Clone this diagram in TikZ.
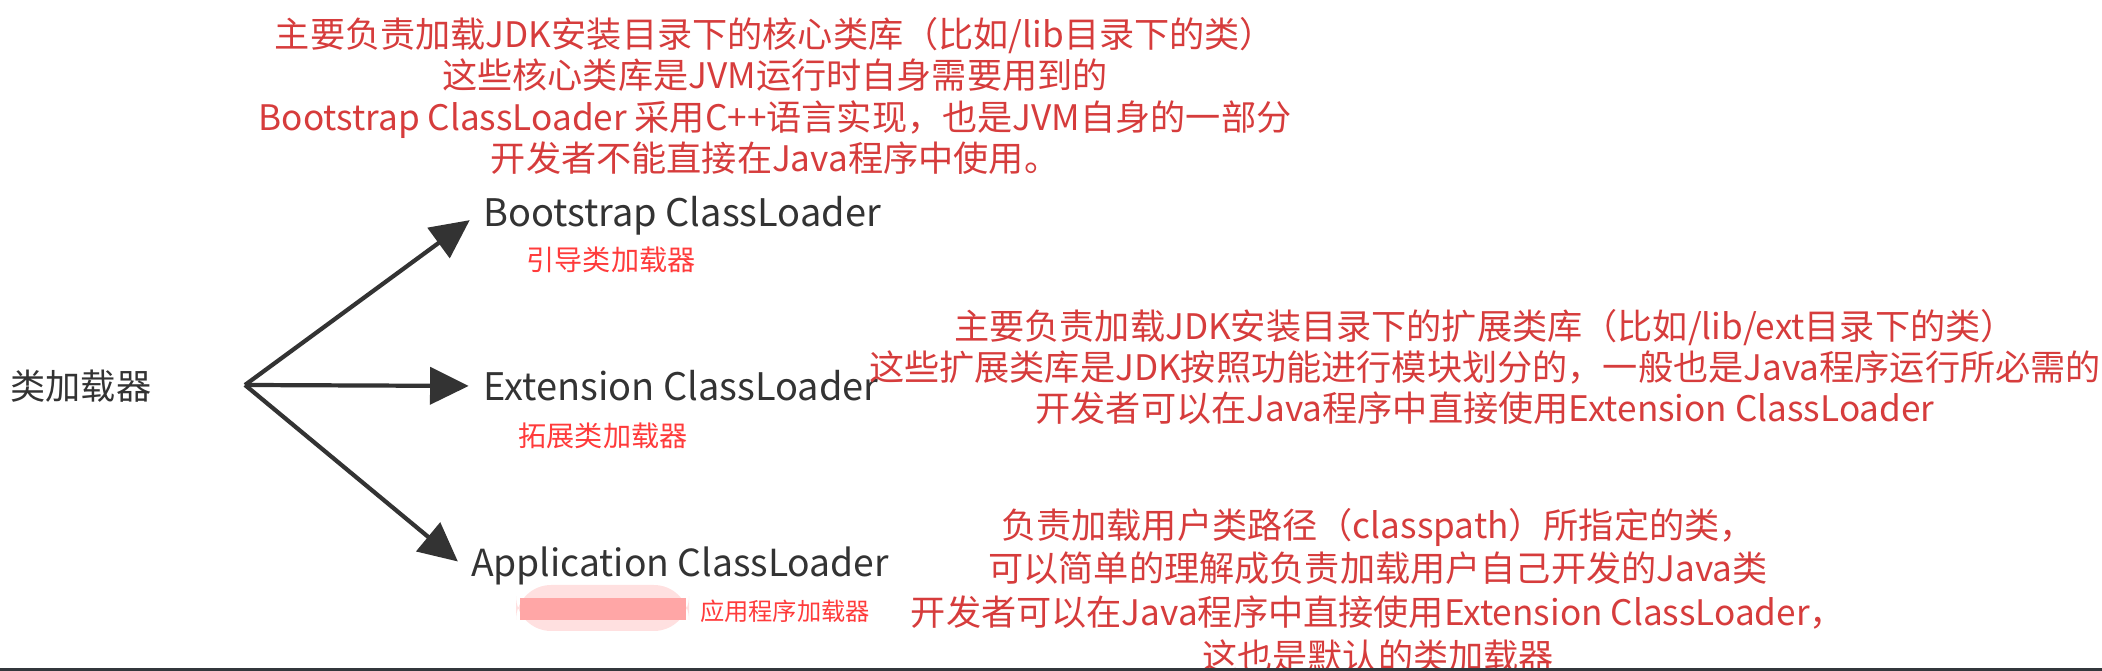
\documentclass[tikz,border=0pt]{standalone}
\usepackage{fontspec}
\setmainfont{Noto Sans CJK SC}
\usepackage{xcolor}
\usepackage{tikz}
\usetikzlibrary{positioning, arrows.meta, calc}

\definecolor{notered}{HTML}{D63C3C}
\definecolor{tagred}{HTML}{FF3B3B}
\definecolor{inkgray}{HTML}{333333}
\definecolor{bargray}{HTML}{33373C}

\begin{document}
\begin{tikzpicture}[x=0.01cm, y=-0.01cm,
        loader/.style={text=inkgray, inner sep=2pt, font=\fontsize{10.8}{13}\selectfont},
        tag/.style={text=tagred, inner sep=0pt, font=\fontsize{8}{9.6}\selectfont},
        note/.style={text=notered, align=center, inner sep=0pt, font=\fontsize{10}{11.7}\selectfont},
        branch/.style={draw=inkgray, line width=1.2pt, shorten >=2pt, -{Triangle[length=11pt, width=10.5pt]}}]
        \useasboundingbox (0,0) rectangle (2102,671);

        % Root node
        \node[loader, font=\fontsize{10}{12}\selectfont] (root) at (81,386) {类加载器};
        \coordinate (fork) at (245,385);

        % Loader nodes
        \node[loader] (boot) at (682,216) {Bootstrap ClassLoader};
        \node[loader] (ext) at (681,386) {Extension ClassLoader};
        \node[loader, font=\fontsize{10.6}{13}\selectfont] (app) at (680,566) {Application ClassLoader};

        % Chinese names
        \node[tag] (boottag) at (611,260) {引导类加载器};
        \node[tag] (exttag) at (603,436) {拓展类加载器};
        \fill[red!12, rounded corners=10pt] (516,585) rectangle (689,631);
        \fill[red!35] (520,598) rectangle (686,620);
        \node[tag, font=\fontsize{6.9}{8}\selectfont] (apptag) at (785,611) {应用程序加载器};

        % Notes
        \node[note] (bootnote) at (775,96) {主要负责加载JDK安装目录下的核心类库（比如/lib目录下的类）\\
            这些核心类库是JVM运行时自身需要用到的\\
            Bootstrap ClassLoader 采用C++语言实现，也是JVM自身的一部分\\
            开发者不能直接在Java程序中使用。};
        \node[note] (extnote) at (1485,367) {主要负责加载JDK安装目录下的扩展类库（比如/lib/ext目录下的类）\\
            这些扩展类库是JDK按照功能进行模块划分的，一般也是Java程序运行所必需的\\
            开发者可以在Java程序中直接使用Extension ClassLoader};
        \node[note, font=\fontsize{10}{12.4}\selectfont] (appnote) at (1378,590) {负责加载用户类路径（classpath）所指定的类，\\
            可以简单的理解成负责加载用户自己开发的Java类\\
            开发者可以在Java程序中直接使用Extension ClassLoader，\\
            这也是默认的类加载器};

        % Arrows
        \draw[branch] (fork) -- (boot.west);
        \draw[branch] (fork) -- (ext.west);
        \draw[branch] (fork) -- (app.west);

        \fill[bargray] (0,668) rectangle (2102,671);
    \end{tikzpicture}
\end{document}
